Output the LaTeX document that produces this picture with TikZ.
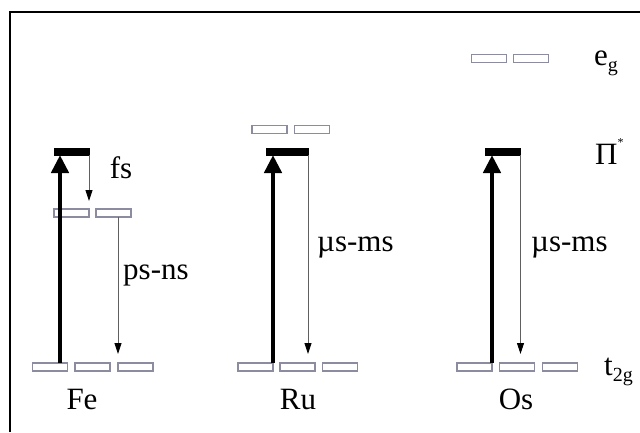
\documentclass[tikz,border=0pt]{standalone}
\usepackage{fontspec}
\setmainfont{Liberation Serif}
\usetikzlibrary{arrows.meta}
\definecolor{lvl}{HTML}{8C8CA0}
\definecolor{decay}{HTML}{606060}
\tikzset{
  level/.style={draw=lvl, line width=1.1pt, minimum width=35pt, minimum height=8pt, inner sep=0pt, outer sep=0pt},
  pistar/.style={fill=black, draw=black, minimum width=#1, minimum height=7pt, inner sep=0pt, outer sep=0pt},
  pump/.style={line width=4.5pt, -{Triangle[width=17pt,length=18pt]}},
  relax/.style={draw=decay, line width=0.9pt, -{Triangle[width=7pt,length=11pt,color=black]}},
  lab/.style={font=\fontsize{31}{34}\selectfont, inner sep=0pt, anchor=base},
  sub/.style={font=\fontsize{31}{34}\selectfont, inner sep=0pt, anchor=base west}
}
\newcommand{\lowidx}[1]{\raisebox{-0.45ex}{\fontsize{20}{21}\selectfont #1}}
\begin{document}
\begin{tikzpicture}[x=1pt,y=-1pt]
\useasboundingbox (0,0) rectangle (640,432);
% frame
\draw[line width=1.8pt] (10,432) -- (10,12) -- (640,12);

% ---- Fe ----
\node[level] (fet1) at (50,367) {};
\node[level] (fet2) at (92.5,367) {};
\node[level] (fet3) at (135.5,367) {};
\node[level] (fee1) at (71.5,213) {};
\node[level] (fee2) at (113.5,213) {};
\node[pistar=35pt] (fepi) at (71.5,151.5) {};
\coordinate (feup) at (60,363);
\draw[pump] (feup) -- (fepi.south -| feup);
\draw[relax] (fepi.south east) -- ([yshift=8pt]fee1.north east);
\draw[relax] (fee2.south -| fet3.north west) -- ([yshift=9pt]fet3.north west);
\node[lab] (fs) at (121,178) {fs};
\node[lab, anchor=base west] (psns) at (123,279) {ps-ns};
\node[lab] (fe) at (82,409) {Fe};

% ---- Ru ----
\node[level] (rut1) at (255.5,367) {};
\node[level] (rut2) at (297.5,367) {};
\node[level] (rut3) at (340,367) {};
\node[level] (rue1) at (269.5,129.5) {};
\node[level] (rue2) at (312,129.5) {};
\node[pistar=42pt] (rupi) at (287,151.5) {};
\draw[pump] (rut1.north east) -- (rupi.south -| rut1.north east);
\draw[relax] (rupi.south east) -- ([yshift=9pt]rupi.south east |- rut2.north);
\node[lab, anchor=base west] (rums) at (317,251) {µs-ms};
\node[lab] (ru) at (298,409) {Ru};

% ---- Os ----
\node[level] (ost1) at (474.5,367) {};
\node[level] (ost2) at (517,367) {};
\node[level] (ost3) at (560,367) {};
\node[level] (ose1) at (489,58.5) {};
\node[level] (ose2) at (531,58.5) {};
\node[pistar=35pt] (ospi) at (503,151.5) {};
\draw[pump] (ost1.north east) -- (ospi.south -| ost1.north east);
\draw[relax] (ospi.south east) -- ([yshift=9pt]ospi.south east |- ost2.north);
\node[lab, anchor=base west] (osms) at (531,251) {µs-ms};
\node[lab] (os) at (516,409) {Os};

% ---- level names ----
\node[sub] (eg) at (594,65) {e\lowidx{g}};
\node[sub] (pi) at (595,164) {Π\raisebox{1.2ex}{\fontsize{12}{12}\selectfont *}};
\node[sub] (t2g) at (604,375) {t\lowidx{2g}};
\end{tikzpicture}
\end{document}
